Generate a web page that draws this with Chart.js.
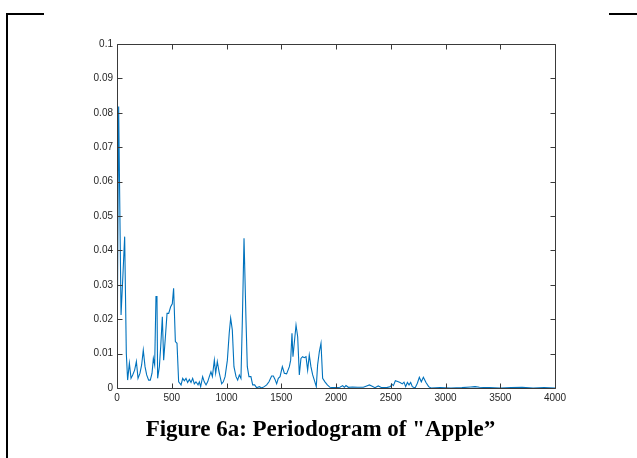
<!DOCTYPE html>
<html>
<head>
<meta charset="utf-8">
<script src="https://cdn.jsdelivr.net/npm/chart.js@4.4.1/dist/chart.umd.min.js"></script>
<style>
  html, body { margin: 0; padding: 0; background: #fff; }
  #wrap { position: relative; width: 637px; height: 458px; overflow: hidden; }
  #c { position: absolute; left: 0; top: 0; }
  .ln { position: absolute; background: #000; }
  #cap { position: absolute; left: 2px; width: 637px; top: 416px; text-align: center;
         font-family: "Liberation Serif", serif; font-weight: bold; font-size: 23px; color: #000; }
</style>
</head>
<body>
<div id="wrap">
  <canvas id="c" width="637" height="458"></canvas>
  <div class="ln" style="left:6px;top:13px;width:2px;height:445px"></div>
  <div class="ln" style="left:6px;top:13px;width:38px;height:2px"></div>
  <div class="ln" style="left:609px;top:13px;width:28px;height:2px"></div>
  <div id="cap">Figure 6a: Periodogram of "Apple”</div>
</div>
<script>
const freq = [0,15,37,52,70,85,97,113,128,143,161,177,192,210,225,240,256,271,289,304,320,332,344,356,365,371,387,399,414,426,441,457,472,490,505,517,533,548,563,578,585,600,615,630,645,661,676,691,706,721,740,752,764,782,797,813,828,843,858,871,889,901,916,932,956,971,987,1008,1025,1038,1053,1068,1087,1102,1117,1132,1145,1160,1178,1190,1205,1223,1239,1257,1275,1300,1321,1345,1367,1388,1412,1428,1443,1458,1473,1489,1510,1528,1549,1574,1586,1598,1607,1635,1650,1665,1680,1695,1710,1726,1741,1756,1771,1787,1802,1820,1832,1848,1863,1878,1899,1921,1945,1990,2036,2061,2076,2091,2113,2150,2200,2250,2280,2305,2326,2356,2386,2417,2462,2499,2508,2524,2542,2563,2585,2606,2621,2636,2652,2667,2682,2697,2722,2743,2761,2779,2798,2822,2846,2867,2950,3050,3150,3230,3270,3310,3400,3500,3600,3700,3800,3900,4000];
const power = [0.002,0.0818,0.0212,0.0314,0.044,0.0101,0.0023,0.0072,0.0028,0.0038,0.0052,0.0077,0.0028,0.0043,0.0067,0.011,0.0062,0.0038,0.0023,0.0023,0.0043,0.0086,0.0067,0.0266,0.0266,0.0028,0.0062,0.012,0.0207,0.0081,0.0144,0.0217,0.0217,0.0236,0.0245,0.029,0.0135,0.013,0.0018,0.0012,0.0009,0.0028,0.0021,0.0028,0.0016,0.0025,0.0016,0.0028,0.0012,0.0018,0.0009,0.0018,0.0004,0.0033,0.0018,0.0009,0.0018,0.0033,0.0047,0.0033,0.0081,0.0043,0.0077,0.0047,0.0012,0.0018,0.0033,0.0081,0.016,0.0203,0.0169,0.0062,0.0033,0.0023,0.0038,0.0028,0.02,0.0435,0.0198,0.0062,0.0033,0.0033,0.0009,0.0009,0.0001,0.0004,0.0,0.0004,0.0009,0.0018,0.0035,0.0035,0.0025,0.0012,0.0028,0.0033,0.0062,0.0043,0.0041,0.0062,0.0081,0.0159,0.0091,0.0183,0.0149,0.0038,0.0086,0.0091,0.0088,0.0091,0.0052,0.0096,0.0062,0.0038,0.0023,0.0004,0.0067,0.0106,0.013,0.0028,0.0018,0.0009,0.0002,0.0001,0.0002,0.0007,0.0002,0.0007,0.0002,0.0003,0.0002,0.0002,0.0006,0.0009,0.0006,0.0001,0.0006,0.0001,0.0001,0.0004,0.0012,0.0007,0.0021,0.0019,0.0016,0.0012,0.0017,0.0004,0.0016,0.0009,0.0016,0.0004,0.0,0.0014,0.0031,0.0018,0.0031,0.0016,0.0004,0.0,0.0001,0.0,0.0001,0.0003,0.0004,0.0002,0.0001,0.0,0.0001,0.0002,0.0,0.0001,0.0];
const xTicks = [0,500,1000,1500,2000,2500,3000,3500,4000];
const yTicks = [0,0.01,0.02,0.03,0.04,0.05,0.06,0.07,0.08,0.09,0.1];

const axisColor = '#3a3a3a';
const boxPlugin = {
  id: 'boxTicks',
  afterDraw(chart) {
    const {ctx, chartArea: a, scales: {x, y}} = chart;
    ctx.save();
    ctx.strokeStyle = axisColor;
    ctx.lineWidth = 1;
    const L = Math.round(a.left) + 0.5, R = Math.round(a.right) + 0.5;
    const T = Math.round(a.top) + 0.5, B = Math.round(a.bottom) + 0.5;
    ctx.beginPath();
    ctx.rect(L, T, R - L, B - T);
    xTicks.forEach(v => {
      const p = Math.round(x.getPixelForValue(v)) + 0.5;
      ctx.moveTo(p, B); ctx.lineTo(p, B - 5);
      ctx.moveTo(p, T); ctx.lineTo(p, T + 5);
    });
    yTicks.forEach(v => {
      const p = Math.round(y.getPixelForValue(v)) + 0.5;
      ctx.moveTo(L, p); ctx.lineTo(L + 5, p);
      ctx.moveTo(R, p); ctx.lineTo(R - 5, p);
    });
    ctx.stroke();
    ctx.restore();
  }
};

new Chart(document.getElementById('c'), {
  type: 'line',
  data: {
    datasets: [{
      data: freq.map((f, i) => ({x: f, y: power[i]})),
      borderColor: '#0072BD',
      borderWidth: 1.1,
      pointRadius: 0,
      tension: 0,
      fill: false
    }]
  },
  options: {
    responsive: false,
    animation: false,
    events: [],
    layout: { padding: { top: 44, right: 82, left: 0, bottom: 0 } },
    plugins: { legend: { display: false }, tooltip: { enabled: false } },
    scales: {
      x: {
        type: 'linear', min: 0, max: 4000,
        afterFit(s) { s.height = 70; },
        afterBuildTicks(s) { s.ticks = xTicks.map(v => ({value: v})); },
        grid: { display: false, drawTicks: false },
        border: { display: false },
        ticks: { color: '#262626', padding: 4, maxRotation: 0, autoSkip: false,
                 font: { family: 'Liberation Sans', size: 10 },
                 callback: v => String(v) }
      },
      y: {
        type: 'linear', min: 0, max: 0.1,
        afterFit(s) { s.width = 117; },
        afterBuildTicks(s) { s.ticks = yTicks.map(v => ({value: v})); },
        grid: { display: false, drawTicks: false },
        border: { display: false },
        ticks: { color: '#262626', padding: 4, autoSkip: false,
                 font: { family: 'Liberation Sans', size: 10 },
                 callback: v => String(Number(v.toFixed(2))) }
      }
    }
  },
  plugins: [boxPlugin]
});
</script>
</body>
</html>
